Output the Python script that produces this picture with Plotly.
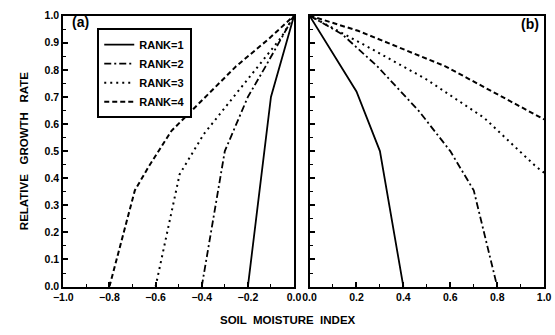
import plotly.graph_objects as go

# ---- data ----
rank_names = ["RANK=1", "RANK=2", "RANK=3", "RANK=4"]

# panel (a): soil moisture index -1..0
a_r1_x = [-0.2, -0.1, 0.0]
a_r1_y = [0.0, 0.70, 1.0]
a_r2_x = [-0.4, -0.3, -0.2, -0.125, 0.0]
a_r2_y = [0.0, 0.50, 0.70, 0.81, 1.0]
a_r3_x = [-0.6, -0.496, -0.475, -0.391, -0.279, -0.167, -0.055, 0.0]
a_r3_y = [0.0, 0.414, 0.444, 0.563, 0.682, 0.80, 0.92, 1.0]
a_r4_x = [-0.8, -0.69, -0.629, -0.531, -0.391, -0.251, -0.11, 0.0]
a_r4_y = [0.0, 0.355, 0.444, 0.575, 0.694, 0.813, 0.914, 1.0]

# panel (b): soil moisture index 0..1
b_r1_x = [0.0, 0.2, 0.3, 0.4]
b_r1_y = [1.0, 0.72, 0.50, 0.0]
b_r2_x = [0.0, 0.138, 0.289, 0.468, 0.6, 0.7, 0.8]
b_r2_y = [1.0, 0.932, 0.813, 0.646, 0.50, 0.355, 0.0]
b_r3_x = [0.0, 0.248, 0.496, 0.744, 0.964, 1.0]
b_r3_y = [1.0, 0.885, 0.766, 0.623, 0.444, 0.42]
b_r4_x = [0.0, 0.207, 0.579, 1.0]
b_r4_y = [1.0, 0.944, 0.813, 0.617]

dashes = ["solid", "7px,3px,2px,3px", "2px,4px", "5px,3px"]
widths = [1.8, 1.8, 2.0, 2.0]

FONT = "Liberation Sans, Arial, sans-serif"

fig = go.Figure()
a_data = [(a_r1_x, a_r1_y), (a_r2_x, a_r2_y), (a_r3_x, a_r3_y), (a_r4_x, a_r4_y)]
b_data = [(b_r1_x, b_r1_y), (b_r2_x, b_r2_y), (b_r3_x, b_r3_y), (b_r4_x, b_r4_y)]
for i, (x, y) in enumerate(a_data):
    fig.add_trace(go.Scatter(x=x, y=y, mode="lines", name=rank_names[i],
                             line=dict(color="black", dash=dashes[i], width=widths[i]),
                             xaxis="x", yaxis="y", showlegend=True))
for i, (x, y) in enumerate(b_data):
    fig.add_trace(go.Scatter(x=x, y=y, mode="lines", name=rank_names[i],
                             line=dict(color="black", dash=dashes[i], width=widths[i]),
                             xaxis="x2", yaxis="y2", showlegend=False))

W, H = 555, 335
ydom = [1 - 291 / H, 1 - 10 / H]
tickfont = dict(family=FONT, size=10.5, color="black", weight="bold")

common_x = dict(showline=True, linecolor="black", linewidth=2, mirror=True,
                ticks="inside", ticklen=5, tickcolor="black", tickwidth=1.5,
                dtick=0.2, tickformat=".1f", showgrid=False, zeroline=False,
                tickfont=tickfont,
                minor=dict(dtick=0.1, ticks="inside", ticklen=3, tickcolor="black", tickwidth=1.2))
common_y = dict(showline=True, linecolor="black", linewidth=2, mirror=True,
                ticks="inside", ticklen=5, tickcolor="black", tickwidth=1.5,
                dtick=0.1, tickformat=".1f", showgrid=False, zeroline=False,
                range=[0, 1.0], tickfont=tickfont,
                minor=dict(dtick=0.05, ticks="inside", ticklen=3, tickcolor="black", tickwidth=1.2))

fig.update_layout(
    width=W, height=H,
    margin=dict(l=0, r=0, t=0, b=0),
    paper_bgcolor="white", plot_bgcolor="white",
    xaxis=dict(domain=[55 / W, 293 / W], range=[-1.0, 0.0], anchor="y", **common_x),
    yaxis=dict(domain=ydom, anchor="x", **common_y),
    xaxis2=dict(domain=[309 / W, 551 / W], range=[0.0, 1.0], anchor="y2", **common_x),
    yaxis2=dict(domain=ydom, anchor="x2", showticklabels=False, **common_y),
    showlegend=True,
    legend=dict(x=90 / W, y=1 - 23 / H, xanchor="left", yanchor="top",
                bordercolor="black", borderwidth=2, bgcolor="white",
                itemwidth=30, tracegroupgap=0,
                font=dict(family=FONT, size=11, color="black", weight="bold")),
    annotations=[
        dict(text="(a)", x=62 / W, y=1 - 17 / H, xref="paper", yref="paper",
             xanchor="left", yanchor="middle", showarrow=False,
             font=dict(family=FONT, size=14, color="black", weight="bold")),
        dict(text="(b)", x=548 / W, y=1 - 19 / H, xref="paper", yref="paper",
             xanchor="right", yanchor="middle", showarrow=False,
             font=dict(family=FONT, size=14, color="black", weight="bold")),
        dict(text="RELATIVE   GROWTH   RATE", x=14 / W, y=1 - 151 / H, xref="paper", yref="paper",
             textangle=-90, showarrow=False, xanchor="center", yanchor="middle",
             font=dict(family=FONT, size=11.5, color="black", weight="bold")),
        dict(text="SOIL  MOISTURE  INDEX", x=287 / W, y=1 - 326 / H, xref="paper", yref="paper",
             showarrow=False, xanchor="center", yanchor="middle",
             font=dict(family=FONT, size=11.5, color="black", weight="bold")),
    ],
)

fig.write_html("out.html")
